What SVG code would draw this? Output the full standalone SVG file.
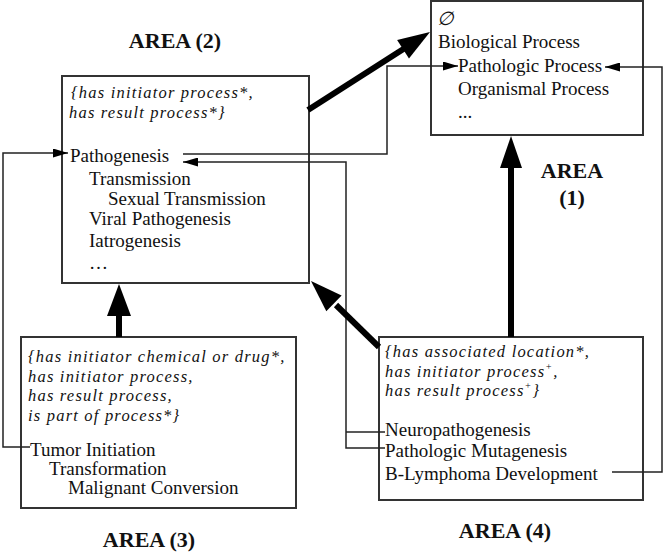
<svg xmlns="http://www.w3.org/2000/svg" width="666" height="552" viewBox="0 0 666 552">
<style>
text{font-family:"Liberation Serif","Times New Roman",serif;font-size:19px;fill:#111}
.it{font-style:italic;font-size:16.5px;letter-spacing:1.2px}
.title{font-weight:bold;font-size:22px;text-anchor:middle}
.box{fill:#fff;stroke:#333;stroke-width:2}
.thin{fill:none;stroke:#222;stroke-width:1.5}
.thick{fill:none;stroke:#000;stroke-width:6}
.head{fill:#000}
</style>
<defs>
<marker id="ah" markerUnits="userSpaceOnUse" markerWidth="15" markerHeight="9" refX="15" refY="4.5" orient="auto">
<path d="M0,0 L15,4.5 L0,9 z" fill="#000"/>
</marker>
</defs>
<rect width="666" height="552" fill="#fff"/>

<g id="area2">
<rect class="box" x="62" y="76" width="247" height="207"/>
<text class="title" x="175" y="48">AREA (2)</text>
<text class="it" x="71" y="98" font-size="17">{has initiator process*,</text>
<text class="it" x="69" y="118" font-size="17">has result process*}</text>
<text x="70" y="162">Pathogenesis</text>
<text x="89" y="185">Transmission</text>
<text x="108" y="205">Sexual Transmission</text>
<text x="89" y="225">Viral Pathogenesis</text>
<text x="89" y="247">Iatrogenesis</text>
<text x="89" y="269">…</text>
</g>

<g id="area1">
<rect class="box" x="431" y="1" width="212" height="134"/>
<text x="437" y="25" font-size="24" font-style="italic">∅</text>
<text x="438" y="48">Biological Process</text>
<text x="458" y="72">Pathologic Process</text>
<text x="458" y="95">Organismal Process</text>
<text x="458" y="118">...</text>
<text class="title" x="572" y="178">AREA</text>
<text class="title" x="572" y="205">(1)</text>
</g>

<g id="area3">
<rect class="box" x="21" y="337" width="275" height="171"/>
<text class="it" x="28" y="362">{has initiator chemical or drug*,</text>
<text class="it" x="28" y="381.5">has initiator process,</text>
<text class="it" x="28" y="401">has result process,</text>
<text class="it" x="28" y="420.5">is part of process*}</text>
<text x="30" y="456">Tumor Initiation</text>
<text x="49" y="475">Transformation</text>
<text x="68" y="494">Malignant Conversion</text>
<text class="title" x="149" y="547">AREA (3)</text>
</g>

<g id="area4">
<rect class="box" x="379" y="337" width="264" height="163"/>
<text class="it" x="385" y="357">{has associated location*,</text>
<text class="it" x="385" y="376.5">has initiator process<tspan font-size="10" dy="-7">+</tspan><tspan dy="7">,</tspan></text>
<text class="it" x="385" y="396">has result process<tspan font-size="10" dy="-7">+</tspan><tspan dy="7">}</tspan></text>
<text x="385" y="436">Neuropathogenesis</text>
<text x="385" y="457">Pathologic Mutagenesis</text>
<text x="385" y="480">B-Lymphoma Development</text>
<text class="title" x="505" y="538">AREA (4)</text>
</g>

<g id="connectors">
<path class="thin" d="M183,154 H387 V66 H458" marker-end="url(#ah)"/>
<path class="thin" d="M385,448 H346 V162 H183" marker-end="url(#ah)"/>
<path class="thin" d="M346,432 H385"/>
<path class="thin" d="M30,447 H3 V153 H68" marker-end="url(#ah)"/>
<path class="thin" d="M612,472 H662 V67 H605" marker-end="url(#ah)"/>

<line class="thick" x1="308" y1="110" x2="405" y2="48"/>
<polygon class="head" points="430,32 408.97,58.51 397.11,39.97"/>

<line class="thick" x1="119" y1="337" x2="119" y2="312"/>
<polygon class="head" points="119,284 131,316 107,316"/>

<line class="thick" x1="511" y1="337" x2="511" y2="165"/>
<polygon class="head" points="511,136 522,168 500,168"/>

<line class="thick" x1="379" y1="347" x2="336" y2="305"/>
<polygon class="head" points="311,281 341.62,295.39 326.3,311.17"/>
</g>
</svg>
